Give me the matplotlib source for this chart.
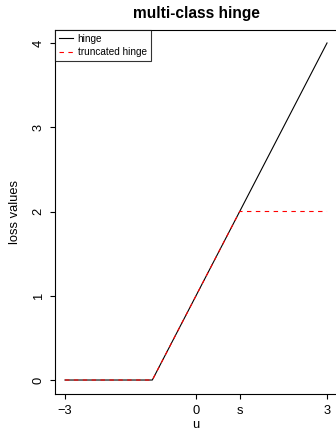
import matplotlib
matplotlib.use("Agg")
import matplotlib.pyplot as plt

plt.rcParams['font.family'] = ['Liberation Sans', 'DejaVu Sans']

u_hinge = [-3, -1, 3]
hinge = [0, 0, 4]
u_trunc = [-3, -1, 1, 3]
trunc = [0, 0, 2, 2]
xticks = [-3, 0, 1, 3]
xticklabels = ['\u22123', '0', 's', '3']
yticks = [0, 1, 2, 3, 4]

fig = plt.figure(figsize=(3.36, 4.30), dpi=100)
L, R, T, B = 54.5, 337.5, 29.5, 393.5
ax = fig.add_axes([L/336, (430-B)/430, (R-L)/336, (B-T)/430])

ax.plot(u_hinge, hinge, color='black', lw=0.8, label='hinge')
ax.plot(u_trunc, trunc, color='#FF0000', lw=0.8, dashes=(4, 4), label='truncated hinge')

ax.set_xlim(-3.24, 3.24)
ax.set_ylim(-0.16, 4.16)
ax.set_xticks(xticks)
ax.set_xticklabels(xticklabels)
ax.set_yticks(yticks)
ax.set_yticklabels([str(v) for v in yticks], rotation=90, va='center')
ax.tick_params(direction='out', length=3.6, width=0.8, labelsize=9.3)
ax.tick_params(axis='x', pad=5)
ax.tick_params(axis='y', pad=3.5)
for sp in ax.spines.values():
    sp.set_linewidth(0.8)

ax.set_xlabel('u', fontsize=9.3)
ax.xaxis.set_label_coords(0.5, (B-425)/(B-T))
ax.xaxis.label.set_va('center')
ax.set_ylabel('loss values', fontsize=9.3)
ax.yaxis.set_label_coords((15-L)/(R-L), 0.5)
ax.yaxis.label.set_va('center')
ax.set_title('multi-class hinge', fontsize=11.2, fontweight='bold', pad=8)

leg = ax.legend(loc='upper left', fontsize=7.2, frameon=True, fancybox=False,
                edgecolor='black', borderaxespad=0, handlelength=1.4,
                handletextpad=0.5, borderpad=0.4, labelspacing=0.35)
leg.get_frame().set_linewidth(0.8)

fig.savefig('out.png', dpi=100)
